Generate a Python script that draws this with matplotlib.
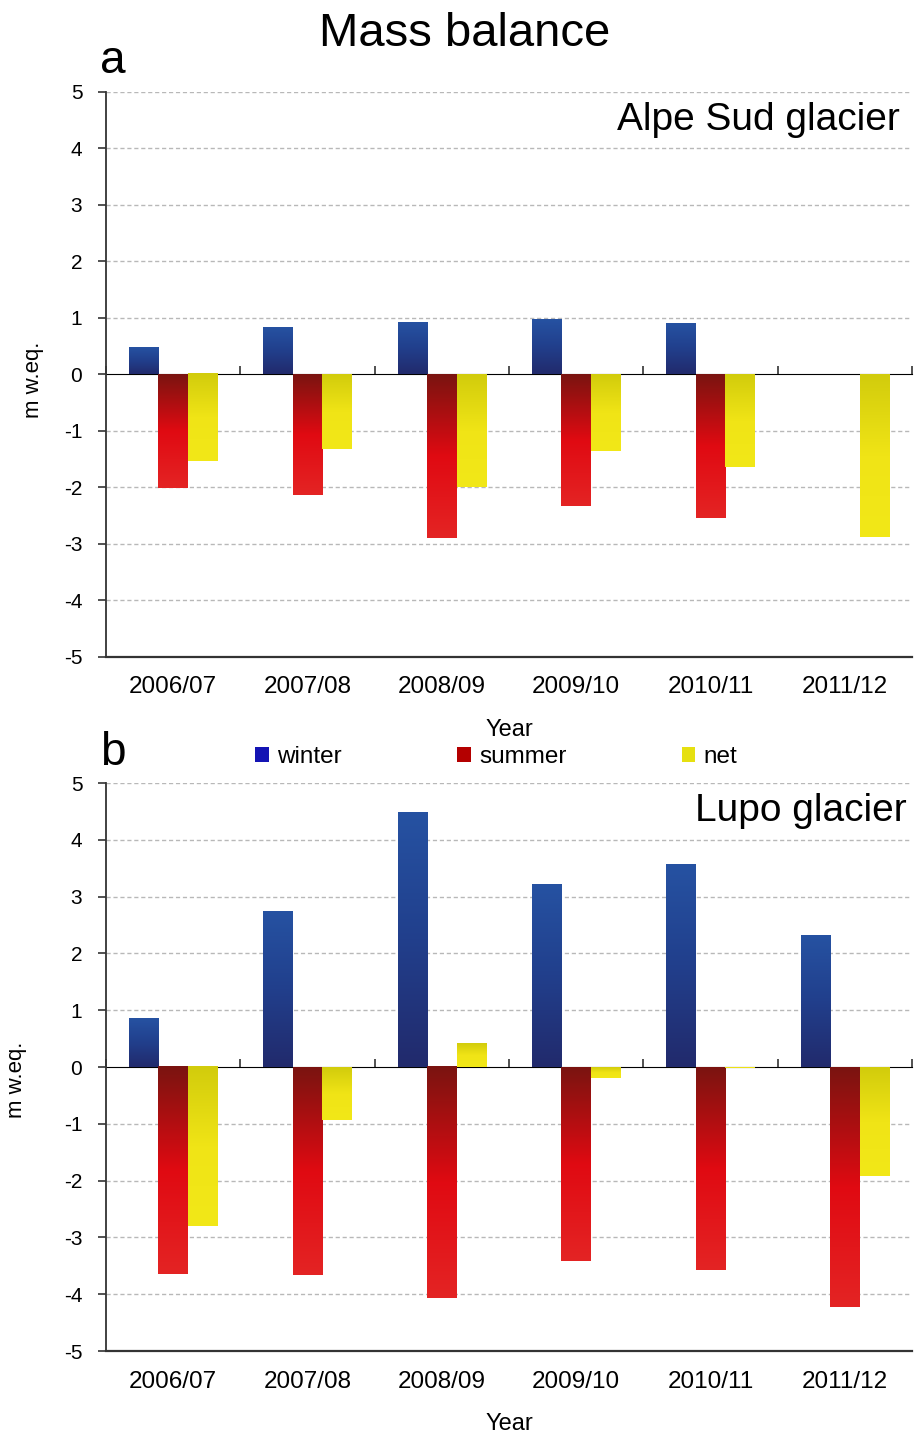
import numpy as np
import matplotlib
matplotlib.use("Agg")
import matplotlib.pyplot as plt
from matplotlib.colors import LinearSegmentedColormap
from matplotlib.patches import Patch

plt.rcParams['font.family'] = ['Liberation Sans', 'DejaVu Sans']
plt.rcParams['axes.unicode_minus'] = False

years = ['2006/07', '2007/08', '2008/09', '2009/10', '2010/11', '2011/12']

# Alpe Sud glacier (no seasonal survey in 2011/12)
alpe_winter = [0.47, 0.83, 0.91, 0.96, 0.90, np.nan]
alpe_summer = [-2.01, -2.14, -2.90, -2.32, -2.54, np.nan]
alpe_net = [-1.54, -1.31, -1.99, -1.36, -1.64, -2.88]

# Lupo glacier
lupo_winter = [0.85, 2.73, 4.48, 3.22, 3.56, 2.31]
lupo_summer = [-3.65, -3.66, -4.07, -3.41, -3.57, -4.22]
lupo_net = [-2.80, -0.93, 0.41, -0.19, -0.01, -1.91]

series_names = ['winter', 'summer', 'net']

# colour ramps, listed top of bar -> bottom of bar
ramps = {
    'winter': ['#2652a2', '#213f8c', '#222a6c'],
    'summer': ['#7a1410', '#e00a12', '#e42424'],
    'net': ['#d2cc0c', '#f0e416', '#f2e818'],
}
legend_colors = {'winter': '#1414b4', 'summer': '#b40000', 'net': '#e6e010'}

cmaps = {k: LinearSegmentedColormap.from_list(k, v) for k, v in ramps.items()}
grad = np.linspace(0, 1, 256).reshape(-1, 1)

width = 0.22
offsets = [-width, 0, width]


def gradient_bars(ax, x, values, name, offset):
    for xi, v in zip(x, values):
        if np.isnan(v):
            continue
        lo, hi = min(0, v), max(0, v)
        ax.imshow(grad, cmap=cmaps[name], aspect='auto', origin='upper',
                  extent=(xi + offset - width / 2, xi + offset + width / 2, lo, hi),
                  zorder=3, interpolation='bilinear')


def mass_panel(ax, data, glacier, letter, ylabel_xy, glacier_x):
    x = np.arange(len(years))
    for name, vals, off in zip(series_names, data, offsets):
        gradient_bars(ax, x, vals, name, off)

    ax.set_xlim(-0.5, len(years) - 0.5)
    ax.set_ylim(-5, 5)
    ax.set_yticks(range(-5, 6))
    ax.set_xticks(x)
    ax.set_xticklabels(years)
    ax.tick_params(axis='x', length=0, pad=14, labelsize=17.5)
    ax.tick_params(axis='y', length=6, width=1.2, pad=11, labelsize=15, color='#333333')

    for s in ['top', 'right']:
        ax.spines[s].set_visible(False)
    ax.spines['left'].set_color('#333333')
    ax.spines['left'].set_linewidth(1.3)
    ax.spines['bottom'].set_color('#333333')
    ax.spines['bottom'].set_linewidth(1.6)

    for yv in range(-4, 6):
        if yv != 0:
            ax.axhline(yv, color='#b8b8b8', lw=1.0, ls=(0, (3, 2)), zorder=1)

    # zero axis with category separator ticks
    zero = ax.secondary_xaxis(0.5)
    zero.set_xticks(np.arange(len(years) + 1) - 0.5)
    zero.set_xticklabels([])
    zero.tick_params(direction='out', length=6, width=1.2, color='#333333')
    zero.spines['bottom'].set_color('#333333')
    zero.spines['bottom'].set_linewidth(1.5)

    ax.set_xlabel('Year', fontsize=17, labelpad=15)
    ax.set_ylabel('m w.eq.', fontsize=16)
    ax.yaxis.set_label_coords(*ylabel_xy)

    ax.text(glacier_x, 4.5, glacier, transform=ax.get_yaxis_transform(),
            ha='right', va='center', fontsize=28)
    ax.text(-0.008, 1.015, letter, transform=ax.transAxes,
            ha='left', va='bottom', fontsize=33)


fig = plt.figure(figsize=(9.16, 14.37), dpi=100)
ax_a = fig.add_axes([0.1157, 0.5428, 0.880, 0.3932])
ax_b = fig.add_axes([0.1157, 0.0598, 0.880, 0.3953])

mass_panel(ax_a, [alpe_winter, alpe_summer, alpe_net], 'Alpe Sud glacier', 'a',
           (-0.077, 0.49), 0.985)
mass_panel(ax_b, [lupo_winter, lupo_summer, lupo_net], 'Lupo glacier', 'b',
           (-0.098, 0.477), 0.994)

fig.text(0.507, 0.976, 'Mass balance', ha='center', va='center', fontsize=34)

handles = [Patch(facecolor=legend_colors[n], edgecolor='none') for n in series_names]
fig.legend(handles, series_names, loc='center', bbox_to_anchor=(0.542, 0.473),
           ncol=3, frameon=False, fontsize=17.5, handlelength=0.55, handleheight=0.55,
           handletextpad=0.35, columnspacing=4.75)

fig.savefig('out.png', dpi=100)
